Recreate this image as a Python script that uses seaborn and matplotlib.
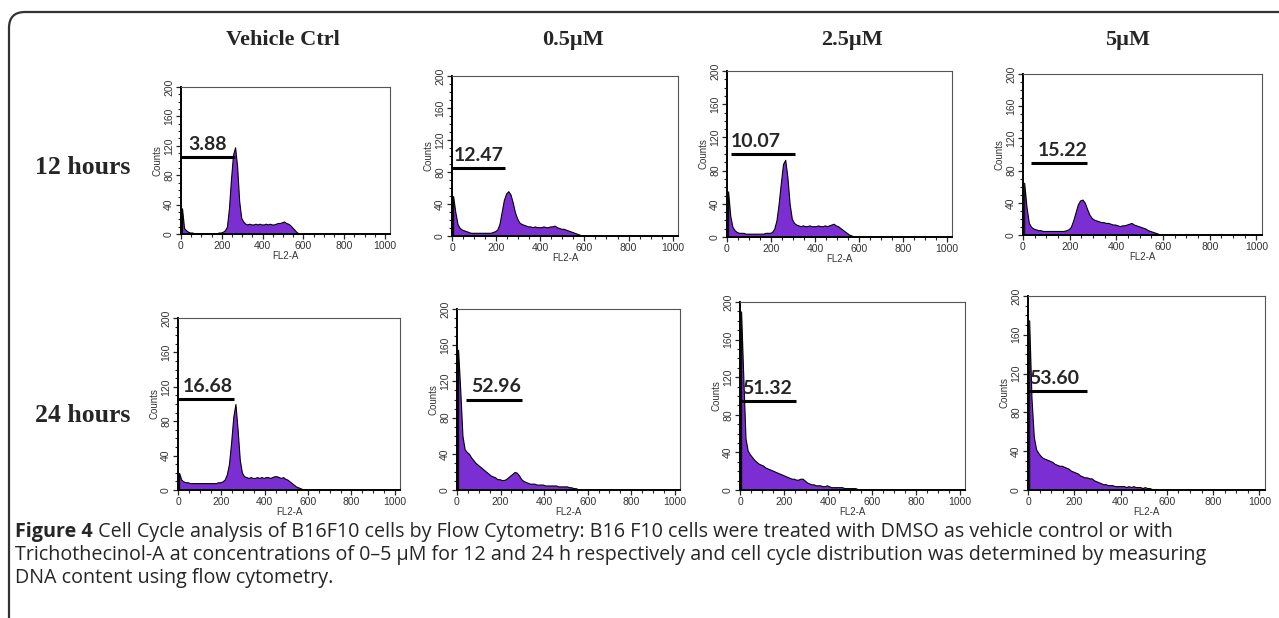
import numpy as np
import pandas as pd
import matplotlib.pyplot as plt
import seaborn as sns
from matplotlib.patches import FancyBboxPatch
from matplotlib.ticker import MultipleLocator

sns.set_theme(style="white")
plt.rcParams["font.family"] = ["Liberation Sans", "DejaVu Sans"]

# ---- data ----
conditions = ["Vehicle Ctrl", "0.5µM", "2.5µM", "5µM"]
times = ["12 hours", "24 hours"]
bin_edges = list(range(0, 610, 10))  # FL2-A channel bins, counts per 10 channels

vc_12h = [35, 8, 5, 3, 2, 2, 1, 1, 1, 1,
          1, 1, 1, 1, 1, 1, 1, 1, 2, 2,
          3, 5, 10, 35, 75, 108, 118, 92, 45, 22,
          17, 14, 13, 14, 13, 13, 14, 13, 14, 13,
          13, 14, 13, 14, 13, 13, 14, 15, 15, 16,
          17, 15, 14, 12, 9, 6, 3, 1, 1, 0]
c05_12h = [50, 30, 15, 10, 8, 7, 6, 5, 4, 4,
           4, 4, 4, 4, 4, 4, 4, 4, 5, 6,
           8, 15, 30, 45, 53, 56, 52, 42, 30, 22,
           17, 15, 14, 13, 12, 12, 11, 12, 11, 11,
           11, 12, 11, 11, 12, 12, 13, 11, 10, 9,
           9, 8, 7, 6, 5, 4, 3, 2, 1, 1]
c25_12h = [55, 25, 12, 8, 6, 5, 5, 5, 4, 4,
           4, 4, 4, 4, 4, 4, 4, 5, 5, 5,
           6, 10, 20, 40, 65, 88, 93, 72, 40, 22,
           17, 15, 14, 13, 14, 13, 13, 14, 13, 13,
           13, 14, 13, 13, 14, 13, 14, 15, 16, 14,
           13, 11, 9, 7, 5, 3, 2, 1, 1, 0]
c5_12h = [65, 35, 15, 10, 8, 7, 6, 6, 5, 5,
          5, 5, 5, 5, 5, 5, 5, 5, 6, 7,
          10, 18, 28, 38, 43, 44, 40, 32, 25, 21,
          19, 18, 17, 16, 16, 15, 15, 14, 13, 13,
          12, 11, 12, 12, 13, 14, 15, 13, 12, 11,
          10, 9, 8, 6, 5, 4, 3, 2, 1, 1]
vc_24h = [20, 12, 10, 9, 9, 8, 8, 8, 8, 8,
          8, 8, 8, 8, 8, 8, 8, 8, 9, 9,
          10, 12, 18, 30, 55, 85, 100, 70, 35, 20,
          16, 15, 14, 15, 14, 14, 15, 14, 15, 14,
          15, 15, 14, 15, 16, 16, 15, 14, 15, 13,
          12, 10, 8, 6, 4, 3, 2, 1, 0, 0]
c05_24h = [155, 110, 60, 45, 42, 40, 36, 33, 30, 28,
           26, 24, 22, 20, 18, 16, 15, 14, 12, 12,
           11, 11, 12, 14, 16, 18, 20, 19, 16, 12,
           10, 9, 8, 7, 7, 7, 6, 6, 6, 6,
           5, 5, 5, 5, 5, 5, 4, 4, 4, 4,
           4, 3, 3, 2, 2, 1, 1, 0, 0, 0]
c25_24h = [190, 120, 55, 42, 38, 35, 32, 30, 28, 27,
           26, 24, 23, 22, 21, 20, 19, 18, 17, 16,
           15, 14, 13, 12, 12, 11, 11, 12, 12, 10,
           8, 7, 6, 6, 5, 5, 5, 4, 4, 5,
           4, 3, 3, 3, 3, 3, 3, 2, 2, 2,
           2, 2, 2, 1, 1, 1, 1, 1, 0, 0]
c5_24h = [175, 95, 55, 42, 38, 35, 33, 32, 31, 30,
          29, 27, 26, 25, 25, 24, 23, 22, 20, 19,
          18, 17, 15, 14, 13, 13, 12, 12, 10, 9,
          8, 7, 6, 6, 5, 5, 5, 4, 4, 4,
          4, 4, 3, 4, 3, 4, 3, 3, 3, 2,
          3, 2, 2, 1, 1, 1, 0, 0, 0, 0]

counts = [[vc_12h, c05_12h, c25_12h, c5_12h],
          [vc_24h, c05_24h, c25_24h, c5_24h]]

# sub-G1 gate: percentage, channel range and height of the marker
gate_pct = [["3.88", "12.47", "10.07", "15.22"],
            ["16.68", "52.96", "51.32", "53.60"]]
gate_lo = [[0, 0, 20, 35], [0, 40, 0, 0]]
gate_hi = [[265, 240, 310, 275], [260, 300, 255, 255]]
gate_y = [[105, 85, 100, 89], [106, 100, 95, 102]]
label_x = [[130, 120, 130, 170], [138, 180, 125, 115]]

caption_bold = "Figure 4"
caption_lines = [
    " Cell Cycle analysis of B16F10 cells by Flow Cytometry: B16 F10 cells were treated with DMSO as vehicle control or with",
    "Trichothecinol-A at concentrations of 0\u20135 \u00b5M for 12 and 24 h respectively and cell cycle distribution was determined by measuring",
    "DNA content using flow cytometry.",
]

# ---- layout (pixels) ----
W, H = 1279, 618
panel_px = [[(181, 87, 390, 234), (452, 76, 678, 236), (727, 71, 952, 237), (1023, 74, 1262, 235)],
            [(178, 318, 400, 490), (457, 309, 680, 490), (740, 302, 965, 490), (1028, 296, 1265, 490)]]
title_x = [283, 573, 852, 1128]
row_y = [168, 415]
purple = "#7b2fd3"

fig = plt.figure(figsize=(W / 100, H / 100), dpi=100)

bg = fig.add_axes([0, 0, 1, 1], zorder=-1)
bg.set_xlim(0, W)
bg.set_ylim(H, 0)
bg.axis("off")
bg.add_patch(FancyBboxPatch((9, 12), 1500, 800, boxstyle="round,pad=0,rounding_size=16",
                            fill=False, ec="#333333", lw=1.6))

centers = [e + 5 for e in bin_edges[:-1]]

for r in range(2):
    for c in range(4):
        left, top, right, bottom = panel_px[r][c]
        ax = fig.add_axes([left / W, 1 - bottom / H, (right - left) / W, (bottom - top) / H])
        df = pd.DataFrame({"FL2-A": centers, "count": counts[r][c]})
        sns.histplot(data=df, x="FL2-A", weights="count", bins=bin_edges, element="poly",
                     fill=True, color=purple, alpha=1, edgecolor="black", linewidth=0.8, ax=ax)
        ax.set_xlim(0, 1024)
        ax.set_ylim(0, 200)
        ax.set_xticks([0, 200, 400, 600, 800, 1000])
        ax.set_yticks([0, 40, 80, 120, 160, 200])
        ax.xaxis.set_minor_locator(MultipleLocator(50))
        ax.yaxis.set_minor_locator(MultipleLocator(10))
        ax.tick_params(which="major", direction="out", length=3.5, width=0.9,
                       labelsize=7.5, labelcolor="#333333", pad=1.5,
                       bottom=True, left=True)
        ax.tick_params(which="minor", direction="out", length=2, width=0.8,
                       bottom=True, left=True)
        for lab in ax.get_yticklabels():
            lab.set_rotation(90)
            lab.set_va("center")
        for s in ["left", "bottom"]:
            ax.spines[s].set_color("black")
            ax.spines[s].set_linewidth(1.4)
        for s in ["top", "right"]:
            ax.spines[s].set_color("#555555")
            ax.spines[s].set_linewidth(0.8)
        ax.set_xlabel("FL2-A", fontsize=7, color="#333333", labelpad=0)
        ax.set_ylabel("Counts", fontsize=7, color="#333333", labelpad=1)

        ax.plot([gate_lo[r][c], gate_hi[r][c]], [gate_y[r][c], gate_y[r][c]],
                color="black", lw=2.2, solid_capstyle="butt", clip_on=False)
        ax.annotate(gate_pct[r][c], (label_x[r][c], gate_y[r][c]), xytext=(0, 3),
                    textcoords="offset points", ha="center", va="bottom",
                    fontsize=14, fontweight="bold", family=["Lato", "DejaVu Sans"])

for c in range(4):
    bg.text(title_x[c], 40, conditions[c], ha="center", va="center", fontsize=16,
            fontweight="bold", family=["Liberation Serif", "DejaVu Serif"])
for r in range(2):
    bg.text(35, row_y[r], times[r], ha="left", va="center", fontsize=18.5,
            fontweight="bold", family=["Liberation Serif", "DejaVu Serif"])

cap_font = ["Open Sans", "DejaVu Sans"]
t = bg.text(15, 532, caption_bold, ha="left", va="center", fontsize=14.2,
            fontweight="bold", family=cap_font)
renderer = fig.canvas.get_renderer()
bb = t.get_window_extent(renderer=renderer)
bg.text(15 + bb.width, 532, caption_lines[0], ha="left", va="center", fontsize=14.2, family=cap_font)
bg.text(15, 555, caption_lines[1], ha="left", va="center", fontsize=14.2, family=cap_font)
bg.text(15, 578, caption_lines[2], ha="left", va="center", fontsize=14.2, family=cap_font)

fig.savefig("out.png", dpi=100)
